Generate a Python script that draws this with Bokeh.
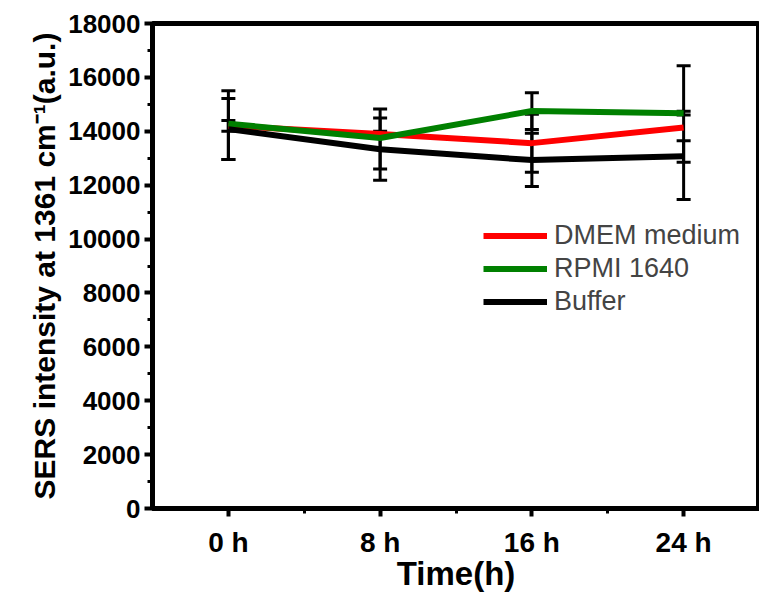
from bokeh.plotting import figure
from bokeh.models import (ColumnDataSource, Whisker, TeeHead, FixedTicker, Range1d,
                          Legend, LegendItem)
from bokeh.embed import file_html
from bokeh.resources import INLINE

# ---- data ----
times = [0, 8, 16, 24]
tick_labels = ["0 h", "8 h", "16 h", "24 h"]

dmem = [14200, 13900, 13560, 14140]
dmem_lo = [14000, 13800, 12480, 11470]
dmem_hi = [14400, 14000, 14630, 16430]

rpmi = [14280, 13750, 14750, 14670]
rpmi_lo = [12950, 12600, 14070, 14600]
rpmi_hi = [15500, 14830, 15430, 14740]

buffer = [14080, 13330, 12930, 13070]
buffer_lo = [12950, 12180, 11950, 12850]
buffer_hi = [15220, 14490, 13930, 13650]

series = [
    ("DMEM medium", dmem, dmem_lo, dmem_hi, "#ff0000"),
    ("RPMI 1640", rpmi, rpmi_lo, rpmi_hi, "#008000"),
    ("Buffer", buffer, buffer_lo, buffer_hi, "#000000"),
]

FONT = "Liberation Sans"

p = figure(width=759, height=594, output_backend="svg", toolbar_location=None,
           x_range=Range1d(-4, 28), y_range=Range1d(0, 18000),
           min_border_left=152, min_border_right=0, min_border_top=23,
           min_border_bottom=83)
p.grid.visible = False
p.background_fill_color = "white"
p.border_fill_color = "white"
p.outline_line_color = "black"
p.outline_line_width = 5

items = []
sources = []
for name, vals, lo, hi, col in series:
    src = ColumnDataSource(dict(x=times, y=vals, lo=lo, hi=hi))
    r = p.line("x", "y", source=src, line_color=col, line_width=6)
    items.append(LegendItem(label=name, renderers=[r]))
    sources.append(src)

for src in sources:
    w = Whisker(base="x", lower="lo", upper="hi", source=src,
                line_color="black", line_width=3,
                upper_head=TeeHead(size=14, line_width=3, line_color="black"),
                lower_head=TeeHead(size=14, line_width=3, line_color="black"))
    p.add_layout(w)

# axes
p.xaxis.ticker = FixedTicker(ticks=times, minor_ticks=[4, 12, 20])
p.xaxis.major_label_overrides = {t: l for t, l in zip(times, tick_labels)}
p.yaxis.ticker = FixedTicker(ticks=list(range(0, 18001, 2000)),
                             minor_ticks=list(range(1000, 18000, 2000)))
for ax in (p.xaxis[0], p.yaxis[0]):
    ax.axis_line_width = 5
    ax.major_tick_line_width = 4
    ax.minor_tick_line_width = 3
    ax.major_tick_out = 8
    ax.major_tick_in = 0
    ax.minor_tick_out = 5
    ax.minor_tick_in = 0
    ax.major_label_text_font = FONT
    ax.major_label_text_font_style = "bold"
    ax.major_label_text_color = "black"
    ax.axis_label_text_font = FONT
    ax.axis_label_text_font_style = "bold"
    ax.axis_label_text_color = "black"

p.xaxis.major_label_text_font_size = "28px"
p.yaxis.major_label_text_font_size = "26px"
p.xaxis.major_label_standoff = 10
p.yaxis.major_label_standoff = 4
p.xaxis.axis_label = "Time(h)"
p.xaxis.axis_label_text_font_size = "33px"
p.xaxis.axis_label_standoff = -6
p.yaxis.axis_label = "SERS intensity at 1361 cm\u207b\u00b9(a.u.)"
p.yaxis.axis_label_text_font_size = "30px"
p.yaxis.axis_label_standoff = 4

legend = Legend(items=items, location=(331, 190), padding=0, margin=0,
                spacing=0, glyph_width=64, glyph_height=33, label_height=33,
                label_standoff=7, label_text_font=FONT,
                label_text_font_size="27px", border_line_color=None,
                background_fill_alpha=0)
p.add_layout(legend)

open("out.html", "w").write(file_html(p, INLINE))
